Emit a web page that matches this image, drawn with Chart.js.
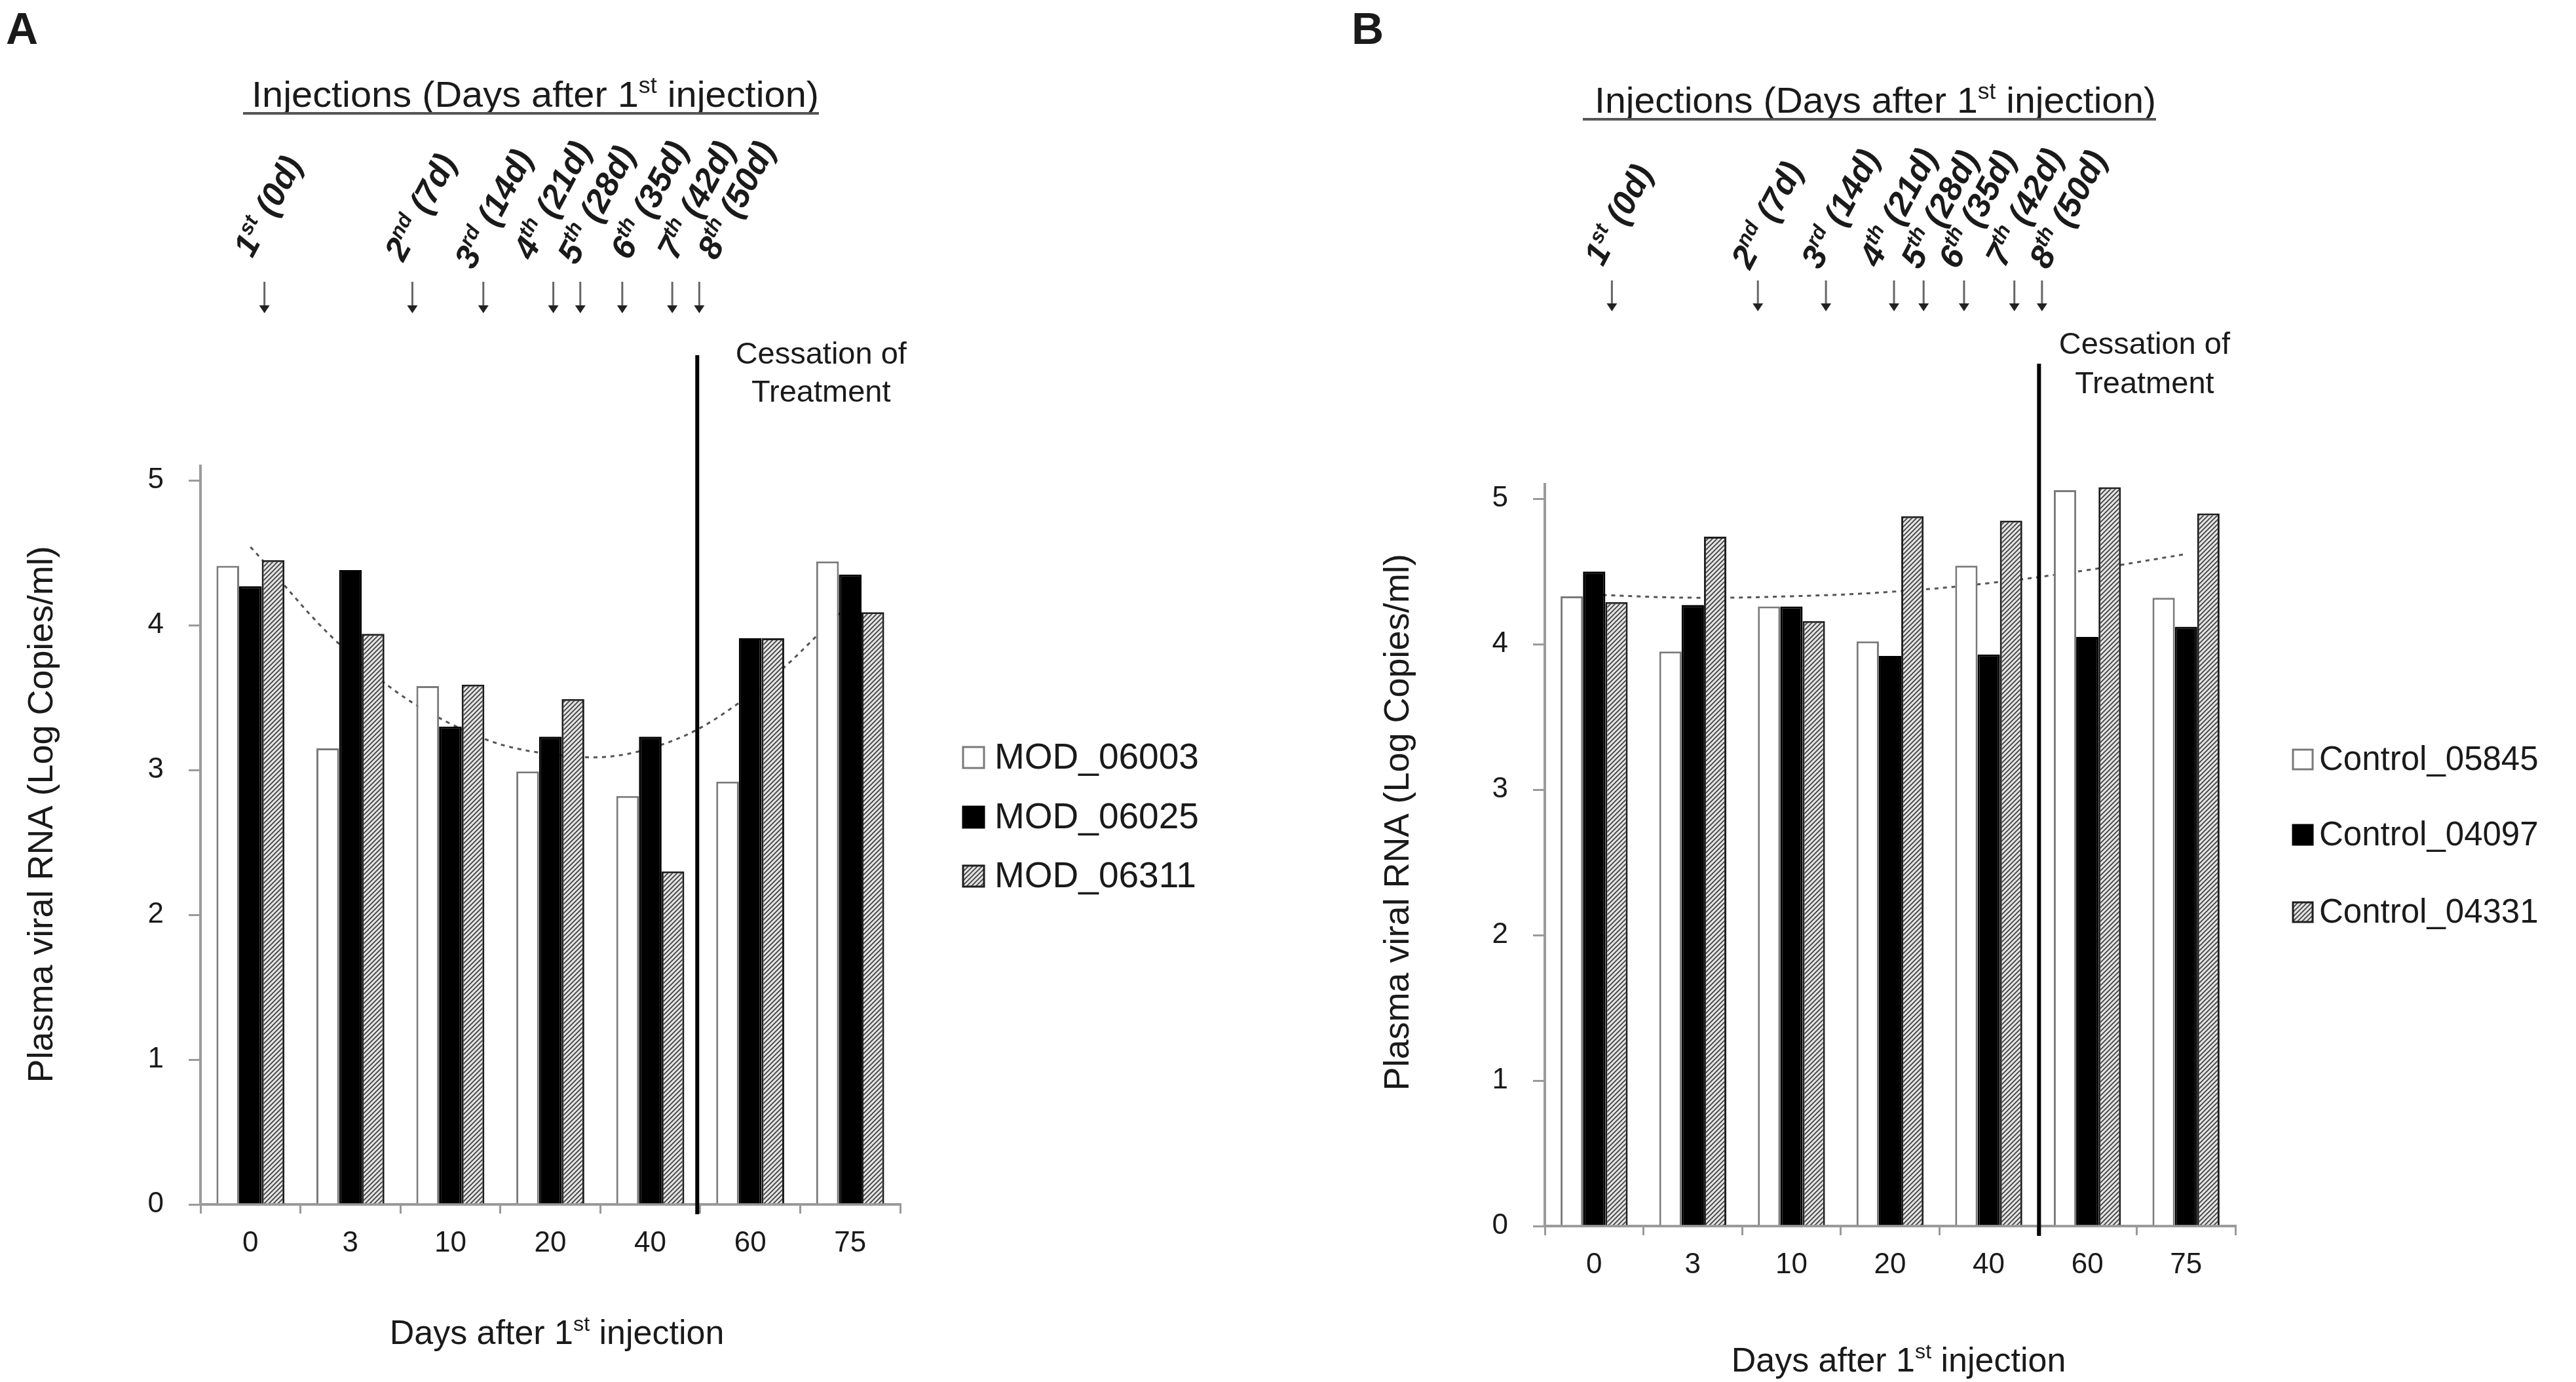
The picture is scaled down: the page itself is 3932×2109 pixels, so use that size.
<!DOCTYPE html>
<html>
<head>
<meta charset="utf-8">
<script src="https://cdn.jsdelivr.net/npm/chart.js@4.4.1/dist/chart.umd.min.js"></script>
<style>
  html, body { margin: 0; padding: 0; background: #fff; }
  #wrap { position: relative; width: 3932px; height: 2109px; }
  .panel { position: absolute; top: 0; width: 1966px; height: 2109px; }
</style>
</head>
<body>
<div id="wrap">
  <div class="panel" style="left:0"><canvas id="chartA" width="1966" height="2109"></canvas></div>
  <div class="panel" style="left:1966px"><canvas id="chartB" width="1966" height="2109"></canvas></div>
</div>
<script>
// ---- data ----
const days = ['0', '3', '10', '20', '40', '60', '75'];

const modNames = ['MOD_06003', 'MOD_06025', 'MOD_06311'];
const mod06003 = [4.41, 3.15, 3.58, 2.99, 2.82, 2.92, 4.44];
const mod06025 = [4.27, 4.38, 3.30, 3.23, 3.23, 3.91, 4.35];
const mod06311 = [4.45, 3.94, 3.59, 3.49, 2.30, 3.91, 4.09];
const modTrend = [4.54, 3.80, 3.32, 3.11, 3.15, 3.52, 4.15];

const ctrlNames = ['Control_05845', 'Control_04097', 'Control_04331'];
const ctrl05845 = [4.33, 3.95, 4.26, 4.02, 4.54, 5.06, 4.32];
const ctrl04097 = [4.50, 4.27, 4.26, 3.92, 3.93, 4.05, 4.12];
const ctrl04331 = [4.29, 4.74, 4.16, 4.88, 4.85, 5.08, 4.90];
const ctrlTrend = [4.34, 4.32, 4.33, 4.36, 4.42, 4.51, 4.62];

const injOrdinal = ['1', '2', '3', '4', '5', '6', '7', '8'];
const injSuffix = ['st', 'nd', 'rd', 'th', 'th', 'th', 'th', 'th'];
const injDays = [0, 7, 14, 21, 28, 35, 42, 50];

const yTicks = [0, 1, 2, 3, 4, 5];

// ---- styling helpers ----
const FAM = "'Liberation Sans', Arial, sans-serif";
const TXT = '#1a1a1a';
const AXIS = '#9a9a9a';

function hatchPattern() {
  const c = document.createElement('canvas');
  c.width = 7; c.height = 7;
  const g = c.getContext('2d');
  g.fillStyle = '#e4e4e4';
  g.fillRect(0, 0, 7, 7);
  g.strokeStyle = '#404040';
  g.lineWidth = 1.8;
  g.beginPath();
  g.moveTo(0, 7); g.lineTo(7, 0);
  g.moveTo(-3.5, 3.5); g.lineTo(3.5, -3.5);
  g.moveTo(3.5, 10.5); g.lineTo(10.5, 3.5);
  g.stroke();
  return g.createPattern(c, 'repeat');
}
const hatch = hatchPattern();

const barFill = ['#ffffff', '#000000', hatch];
const barEdge = ['#7a7a7a', '#000000', '#1e1e1e'];

// text made of parts [[text, isSup], ...], drawn from (0,0) on the baseline
function supWidth(ctx, parts, size, weight, style) {
  let w = 0;
  parts.forEach(([t, sup]) => {
    const s = sup ? size * 0.62 : size;
    ctx.font = `${style} ${weight} ${s}px ${FAM}`;
    w += ctx.measureText(t).width;
  });
  return w;
}
function drawSup(ctx, parts, size, weight, style) {
  let x = 0;
  ctx.textBaseline = 'alphabetic';
  ctx.textAlign = 'left';
  parts.forEach(([t, sup]) => {
    const s = sup ? size * 0.62 : size;
    ctx.font = `${style} ${weight} ${s}px ${FAM}`;
    ctx.fillText(t, x, sup ? -size * 0.38 : 0);
    x += ctx.measureText(t).width;
  });
}

const decorPlugin = {
  id: 'decor',
  afterDraw(chart, args, o) {
    const ctx = chart.ctx;
    const xs = chart.scales.x;
    const area = chart.chartArea;
    ctx.save();
    ctx.fillStyle = TXT;

    // panel letter
    ctx.font = `bold 68px ${FAM}`;
    ctx.textAlign = 'left';
    ctx.textBaseline = 'alphabetic';
    ctx.fillText(o.letter, o.letterX, 67);

    // heading, condensed to its width, underlined
    const head = [['Injections (Days after 1', false], ['st', true], [' injection)', false]];
    const hw = supWidth(ctx, head, 56, 'normal', 'normal');
    ctx.save();
    ctx.translate(o.headX, o.headY);
    ctx.scale(o.headW / hw, 1);
    drawSup(ctx, head, 56, 'normal', 'normal');
    ctx.restore();
    ctx.strokeStyle = '#555';
    ctx.lineWidth = 4;
    ctx.beginPath();
    ctx.moveTo(o.ulX0, o.headY + 10);
    ctx.lineTo(o.ulX1, o.headY + 10);
    ctx.stroke();

    // injection labels and arrows
    injOrdinal.forEach((n, i) => {
      const lx = xs.getPixelForValue(o.labelIdx[i]);
      ctx.save();
      ctx.translate(lx, o.labelY[i]);
      ctx.rotate(-62 * Math.PI / 180);
      ctx.fillStyle = TXT;
      drawSup(ctx, [[n, false], [injSuffix[i], true], [' (' + injDays[i] + 'd)', false]], 51, 'bold', 'italic');
      ctx.restore();

      const ax = xs.getPixelForValue(o.arrowIdx[i]);
      ctx.strokeStyle = '#666';
      ctx.lineWidth = 3;
      ctx.beginPath();
      ctx.moveTo(ax, o.arrowY0);
      ctx.lineTo(ax, o.arrowY1 - 4);
      ctx.stroke();
      ctx.fillStyle = '#222';
      ctx.beginPath();
      ctx.moveTo(ax - 8, o.arrowY1 - 12);
      ctx.lineTo(ax + 8, o.arrowY1 - 12);
      ctx.lineTo(ax, o.arrowY1);
      ctx.closePath();
      ctx.fill();
    });

    // cessation of treatment
    const cx = xs.getPixelForValue(o.stopIdx);
    ctx.strokeStyle = '#000';
    ctx.lineWidth = 6;
    ctx.beginPath();
    ctx.moveTo(cx, o.stopTop);
    ctx.lineTo(cx, area.bottom + 15);
    ctx.stroke();
    ctx.fillStyle = TXT;
    ctx.font = `47px ${FAM}`;
    ctx.textAlign = 'center';
    ctx.textBaseline = 'alphabetic';
    ctx.fillText('Cessation of', cx + o.stopTextDx, o.stopY1);
    ctx.fillText('Treatment', cx + o.stopTextDx, o.stopY2);

    // x title
    const xt = [['Days after 1', false], ['st', true], [' injection', false]];
    const xw = supWidth(ctx, xt, 52, 'normal', 'normal');
    ctx.save();
    ctx.translate(o.xTitleX - xw / 2, o.xTitleY);
    drawSup(ctx, xt, 52, 'normal', 'normal');
    ctx.restore();

    // y title
    ctx.save();
    ctx.translate(o.yTitleX, o.yTitleY);
    ctx.rotate(-Math.PI / 2);
    ctx.font = `54px ${FAM}`;
    ctx.textAlign = 'center';
    ctx.textBaseline = 'middle';
    ctx.fillText('Plasma viral RNA (Log Copies/ml)', 0, 0);
    ctx.restore();

    // legend from the bar datasets
    const bars = chart.data.datasets.filter(d => d.type !== 'line');
    bars.forEach((d, i) => {
      const cy = o.legRows[i];
      const s = o.legBox;
      ctx.fillStyle = d.backgroundColor;
      ctx.fillRect(o.legX, cy - s / 2, s, s);
      ctx.strokeStyle = d.borderColor;
      ctx.lineWidth = 3;
      ctx.strokeRect(o.legX, cy - s / 2, s, s);
      ctx.fillStyle = TXT;
      ctx.font = `${o.legFont}px ${FAM}`;
      ctx.textAlign = 'left';
      ctx.textBaseline = 'middle';
      ctx.fillText(d.label, o.legTextX, cy + 2);
    });
    ctx.restore();
  }
};

function makePanel(id, names, series, trend, pad, decor) {
  const datasets = series.map((vals, i) => ({
    type: 'bar',
    label: names[i],
    data: vals,
    backgroundColor: barFill[i],
    borderColor: barEdge[i],
    borderWidth: 3,
    categoryPercentage: 0.68,
    barPercentage: 1.0,
    order: 1
  }));
  datasets.push({
    type: 'line',
    label: 'trend',
    data: trend,
    borderColor: '#555',
    borderWidth: 3,
    borderDash: [6, 7],
    pointRadius: 0,
    tension: 0.4,
    fill: false,
    order: 10
  });

  return new Chart(document.getElementById(id), {
    type: 'bar',
    data: { labels: days, datasets: datasets },
    plugins: [decorPlugin],
    options: {
      responsive: false,
      animation: false,
      devicePixelRatio: 1,
      layout: { padding: pad },
      plugins: {
        legend: { display: false },
        tooltip: { enabled: false },
        decor: decor
      },
      scales: {
        x: {
          type: 'category',
          offset: true,
          grid: { offset: true, drawOnChartArea: false, drawTicks: true, tickLength: 14, color: AXIS, lineWidth: 3 },
          border: { display: true, color: AXIS, width: 4 },
          ticks: { font: { size: 44, family: FAM }, color: TXT, padding: 19, maxRotation: 0 },
          afterFit: s => { s.height = 150; }
        },
        y: {
          type: 'linear',
          min: 0,
          max: 5.1,
          afterBuildTicks: s => { s.ticks = yTicks.map(v => ({ value: v })); },
          grid: { drawOnChartArea: false, drawTicks: true, tickLength: 18, color: AXIS, lineWidth: 3 },
          border: { display: true, color: AXIS, width: 4 },
          ticks: { font: { size: 44, family: FAM }, color: TXT, padding: 38 },
          afterFit: s => { s.width = 120; }
        }
      }
    }
  });
}

makePanel('chartA', modNames, [mod06003, mod06025, mod06311], modTrend,
  { left: 186, right: 592, top: 711, bottom: 121 },
  {
    letter: 'A', letterX: 9,
    headX: 384, headY: 163, headW: 866, ulX0: 371, ulX1: 1250,
    labelIdx: [0.02, 1.53, 2.23, 2.82, 3.26, 3.79, 4.26, 4.66],
    labelY: [395, 401, 413, 399, 406, 399, 399, 399],
    arrowIdx: [0.14, 1.62, 2.33, 3.03, 3.30, 3.72, 4.22, 4.49],
    arrowY0: 430, arrowY1: 478,
    stopIdx: 4.47, stopTop: 542, stopTextDx: 189, stopY1: 555, stopY2: 613,
    xTitleX: 850, xTitleY: 2051,
    yTitleX: 65, yTitleY: 1243,
    legX: 1470, legBox: 32, legTextX: 1518, legFont: 55, legRows: [1156, 1247, 1337]
  });

makePanel('chartB', ctrlNames, [ctrl05845, ctrl04097, ctrl04331], ctrlTrend,
  { left: 272, right: 520, top: 739, bottom: 88 },
  {
    letter: 'B', letterX: 97,
    headX: 468, headY: 172, headW: 857, ulX0: 450, ulX1: 1325,
    labelIdx: [0.09, 1.58, 2.29, 2.88, 3.30, 3.68, 4.16, 4.60],
    labelY: [408, 413, 413, 410, 413, 413, 410, 413],
    arrowIdx: [0.18, 1.66, 2.35, 3.04, 3.34, 3.75, 4.26, 4.54],
    arrowY0: 428, arrowY1: 475,
    stopIdx: 4.51, stopTop: 555, stopTextDx: 161, stopY1: 540, stopY2: 600,
    xTitleX: 932, xTitleY: 2093,
    yTitleX: 169, yTitleY: 1255,
    legX: 1534, legBox: 30, legTextX: 1574, legFont: 51, legRows: [1159, 1274, 1392]
  });
</script>
</body>
</html>
